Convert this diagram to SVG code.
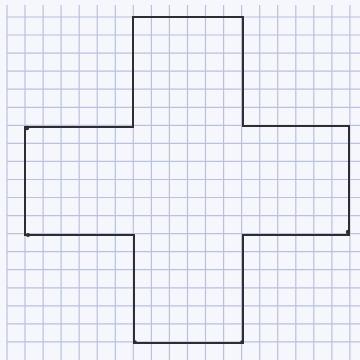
<svg xmlns="http://www.w3.org/2000/svg" width="360" height="360" viewBox="0 0 360 360">
<style>
.g{stroke:#b9c1de;stroke-width:1.2}
.gd{stroke:#a3abcf;stroke-width:1.3}
.cross{fill:none;stroke:#2e2e32;stroke-width:2;stroke-linejoin:miter}
.dot{fill:#2e2e32}
</style>
<rect width="360" height="360" fill="#f5f7fc"/>
<g id="grid">
<path class="g" d="M7,5V360M25,5V360M43.1,5V360M61.1,5V360M79.2,5V360M97.2,5V360M115.3,5V360M133.3,5V360M151.4,5V360M169.4,5V360M187.5,5V360M205.5,5V360M223.6,5V360M241.6,5V360M259.7,5V360M277.7,5V360M295.8,5V360M313.8,5V360M331.9,5V360M349.9,5V360"/>
<path class="g" d="M7,17H360M7,35H360M7,53.1H360M7,71.2H360M7,89.2H360M7,107.3H360M7,125.3H360M7,143.4H360M7,161.4H360M7,179.5H360M7,197.5H360M7,215.6H360M7,233.6H360M7,251.7H360M7,269.7H360M7,287.8H360M7,305.8H360M7,323.9H360M7,341.9H360"/>
</g>
<g id="cross">
<path class="cross" d="M133,17H243V126H349V235H243V343H134V235H25V127H133Z"/>
<circle class="dot" cx="27" cy="128" r="2.2"/>
<circle class="dot" cx="28" cy="235" r="2"/>
<circle class="dot" cx="348" cy="232" r="2.2"/>
<circle class="dot" cx="135" cy="342" r="1.8"/>
<circle class="dot" cx="242" cy="342" r="1.8"/>
</g>
</svg>
